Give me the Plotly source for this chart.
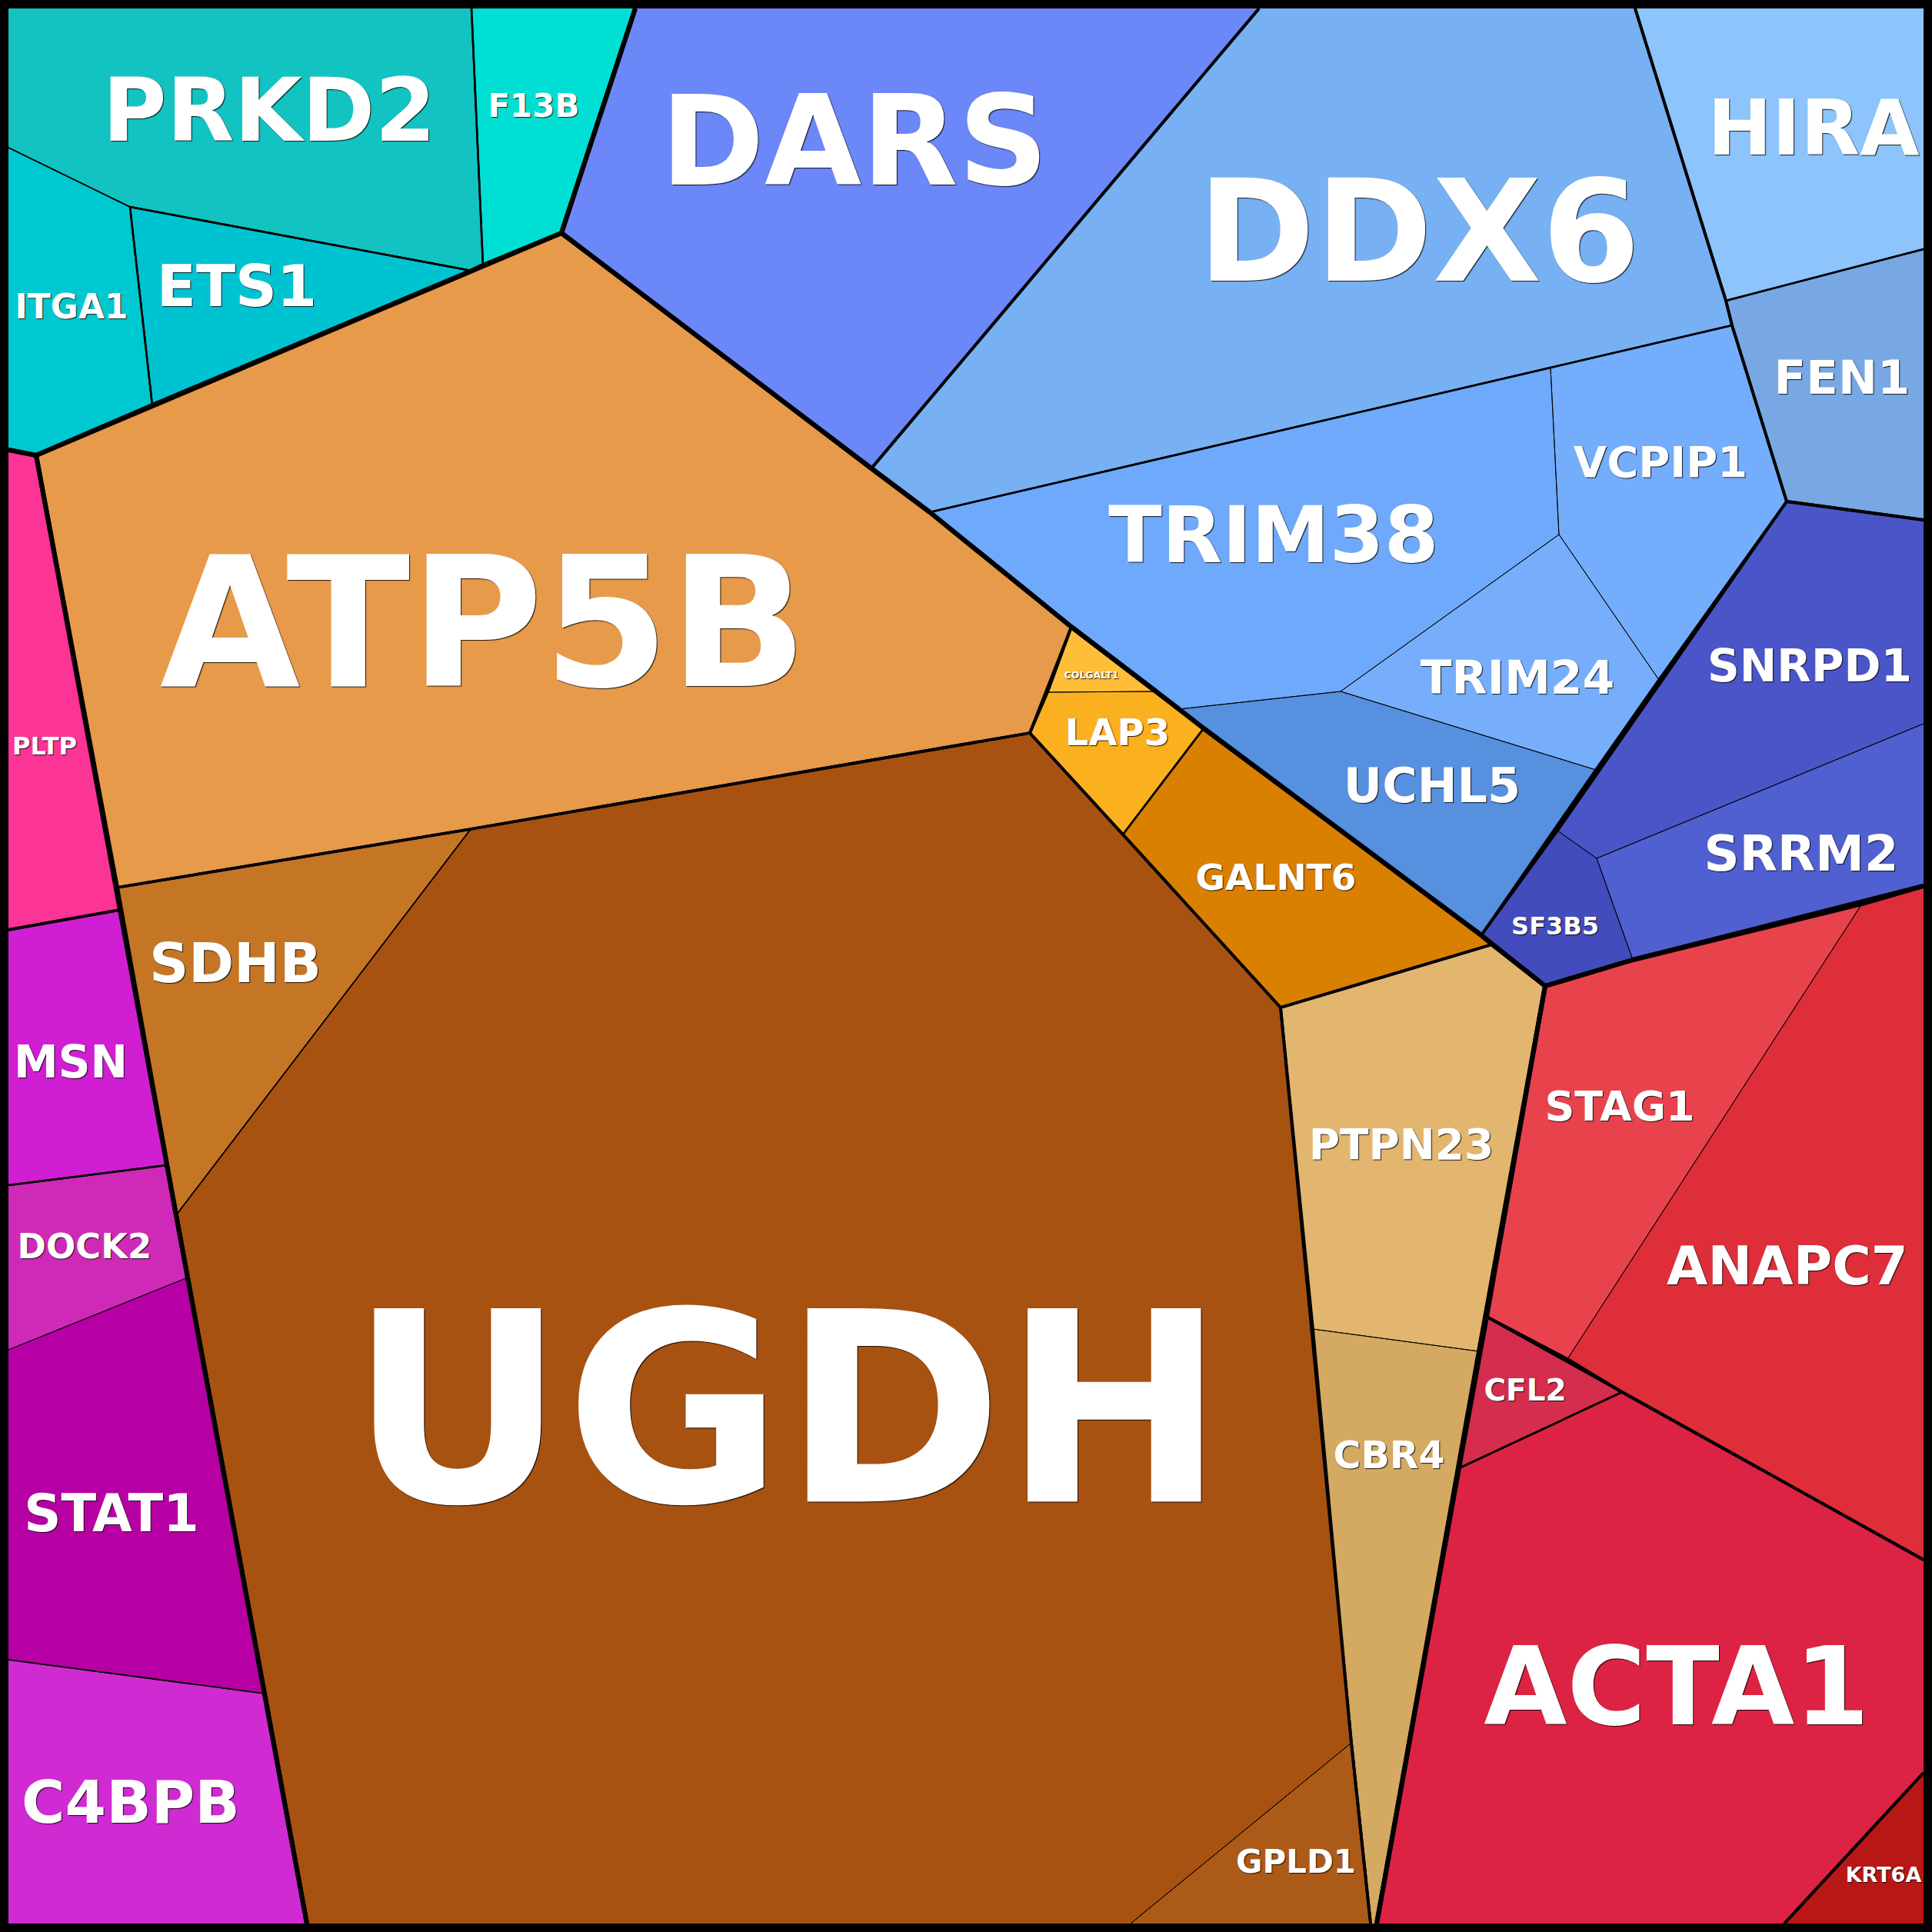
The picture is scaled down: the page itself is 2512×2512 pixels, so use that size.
import math
import plotly.graph_objects as go

# ---------------- data ----------------
cell_names = ["PRKD2", "F13B", "ETS1", "ITGA1",
              "DARS", "DDX6", "TRIM38", "VCPIP1", "TRIM24", "UCHL5",
              "HIRA", "FEN1", "SNRPD1", "SRRM2", "SF3B5",
              "ATP5B", "COLGALT1", "LAP3", "GALNT6", "UGDH", "SDHB", "GPLD1", "PTPN23", "CBR4",
              "PLTP", "MSN", "DOCK2", "STAT1", "C4BPB",
              "STAG1", "ANAPC7", "CFL2", "ACTA1", "KRT6A"]

# hierarchy path of each cell (group > subgroup > ...)
cell_paths = {
    "PRKD2": ("T", "t", "x", "p"), "ITGA1": ("T", "t", "x", "i"), "ETS1": ("T", "t", "y"), "F13B": ("T", "t", "z"),
    "DARS": ("B", "D"), "DDX6": ("B", "X", "d"),
    "TRIM38": ("B", "X", "t", "a", "1"), "VCPIP1": ("B", "X", "t", "a", "2"),
    "TRIM24": ("B", "X", "t", "a", "3"), "UCHL5": ("B", "X", "t", "a", "4"),
    "HIRA": ("B", "H", "h"), "FEN1": ("B", "H", "f"),
    "SNRPD1": ("B", "S", "a", "b", "1"), "SRRM2": ("B", "S", "a", "b", "2"), "SF3B5": ("B", "S", "a", "b", "3"),
    "ATP5B": ("O", "A"), "COLGALT1": ("O", "L", "a", "c", "1"), "LAP3": ("O", "L", "a", "c", "2"),
    "GALNT6": ("O", "L", "b"), "UGDH": ("O", "U", "x", "y", "u"), "GPLD1": ("O", "U", "x", "y", "g"),
    "SDHB": ("O", "U", "x", "s"), "PTPN23": ("O", "Q", "x", "y", "p"), "CBR4": ("O", "Q", "x", "y", "c"),
    "PLTP": ("P", "a"), "MSN": ("P", "b", "m"), "DOCK2": ("P", "b", "n", "q", "d"),
    "STAT1": ("P", "b", "n", "q", "s"), "C4BPB": ("P", "b", "n", "c"),
    "STAG1": ("R", "A", "x", "y", "s"), "ANAPC7": ("R", "A", "x", "y", "a"),
    "CFL2": ("R", "C", "c"), "ACTA1": ("R", "C", "a"), "KRT6A": ("R", "K"),
}

cell_colors = {
    "PRKD2": "#12C3C1", "F13B": "#00DFD4", "ETS1": "#00C3D2", "ITGA1": "#00C8D0",
    "DARS": "#6C87F7", "DDX6": "#78B1F3", "TRIM38": "#6FA9FB", "VCPIP1": "#74ADFB",
    "TRIM24": "#77AEFC", "UCHL5": "#5690DE", "HIRA": "#8CC4FB", "FEN1": "#78A8E3",
    "SNRPD1": "#4A56C8", "SRRM2": "#5060D0", "SF3B5": "#424CBC",
    "ATP5B": "#E79A4A", "COLGALT1": "#FEBE38", "LAP3": "#FBB01F", "GALNT6": "#DA8000",
    "UGDH": "#A85212", "SDHB": "#C47625", "GPLD1": "#AC5A18", "PTPN23": "#E2B66E", "CBR4": "#D4A961",
    "PLTP": "#FB3496", "MSN": "#D01FD2", "DOCK2": "#CF29B7", "STAT1": "#B700A4", "C4BPB": "#D02AD3",
    "STAG1": "#E8434D", "ANAPC7": "#DD2E3A", "CFL2": "#D42D4E", "ACTA1": "#DD2343", "KRT6A": "#B81815",
}

# cell polygon vertices (voronoi cell geometry)
cell_x = {
    "PRKD2": [11, 613, 628, 613, 169, 11],
    "F13B": [613, 826, 730, 628],
    "ETS1": [169, 613, 198],
    "ITGA1": [11, 169, 198, 47, 11],
    "DARS": [826, 1637, 1133, 730],
    "DDX6": [1637, 2126, 2244, 2252, 2016, 1209, 1133],
    "TRIM38": [1209, 2016, 2027, 1743, 1533, 1393],
    "VCPIP1": [2016, 2252, 2323, 2157, 2027],
    "TRIM24": [2027, 2157, 2075, 1743],
    "UCHL5": [1533, 1743, 2075, 1926, 1565],
    "HIRA": [2126, 2501, 2501, 2244],
    "FEN1": [2244, 2501, 2501, 2323, 2252],
    "SNRPD1": [2323, 2501, 2501, 2076, 2025],
    "SRRM2": [2076, 2501, 2501, 2123],
    "SF3B5": [1926, 2025, 2076, 2123, 2009],
    "ATP5B": [47, 730, 1133, 1209, 1393, 1339, 612, 152],
    "COLGALT1": [1393, 1503, 1362],
    "LAP3": [1362, 1503, 1565, 1460, 1339],
    "GALNT6": [1565, 1926, 1940, 1665, 1460],
    "UGDH": [612, 1339, 1460, 1665, 1757, 1470, 399, 229],
    "SDHB": [152, 612, 229],
    "GPLD1": [1757, 1782, 1470],
    "PTPN23": [1665, 1940, 2009, 1923, 1707],
    "CBR4": [1707, 1923, 1790, 1782, 1757],
    "PLTP": [11, 47, 156, 11],
    "MSN": [11, 156, 217, 11],
    "DOCK2": [11, 217, 244, 11],
    "STAT1": [11, 244, 344, 11],
    "C4BPB": [11, 344, 399, 11],
    "STAG1": [2009, 2123, 2421, 2038, 1933],
    "ANAPC7": [2421, 2501, 2501, 2109, 2038],
    "CFL2": [1933, 2109, 1897],
    "ACTA1": [1897, 2109, 2501, 2501, 2320, 1790],
    "KRT6A": [2501, 2501, 2320],
}
cell_y = {
    "PRKD2": [11, 11, 345, 352, 269, 192],
    "F13B": [11, 11, 303, 345],
    "ETS1": [269, 352, 527],
    "ITGA1": [192, 269, 527, 592, 585],
    "DARS": [11, 11, 609, 303],
    "DDX6": [11, 11, 391, 423, 478, 666, 609],
    "TRIM38": [666, 478, 695, 899, 922, 815],
    "VCPIP1": [478, 423, 652, 884, 695],
    "TRIM24": [695, 884, 1001, 899],
    "UCHL5": [922, 899, 1001, 1216, 947],
    "HIRA": [11, 11, 324, 391],
    "FEN1": [391, 324, 676, 652, 423],
    "SNRPD1": [652, 676, 941, 1116, 1080],
    "SRRM2": [1116, 941, 1152, 1248],
    "SF3B5": [1216, 1080, 1116, 1248, 1282],
    "ATP5B": [592, 303, 609, 666, 815, 953, 1078, 1154],
    "COLGALT1": [815, 899, 900],
    "LAP3": [900, 899, 947, 1085, 953],
    "GALNT6": [947, 1216, 1228, 1310, 1085],
    "UGDH": [1078, 953, 1085, 1310, 2266, 2501, 2501, 1580],
    "SDHB": [1154, 1078, 1580],
    "GPLD1": [2266, 2501, 2501],
    "PTPN23": [1310, 1228, 1282, 1757, 1728],
    "CBR4": [1728, 1757, 2501, 2501, 2266],
    "PLTP": [585, 592, 1183, 1209],
    "MSN": [1209, 1183, 1515, 1541],
    "DOCK2": [1541, 1515, 1661, 1755],
    "STAT1": [1755, 1661, 2202, 2158],
    "C4BPB": [2158, 2202, 2501, 2501],
    "STAG1": [1282, 1248, 1175, 1767, 1712],
    "ANAPC7": [1175, 1152, 2028, 1810, 1767],
    "CFL2": [1712, 1810, 1909],
    "ACTA1": [1909, 1810, 2028, 2305, 2501, 2501],
    "KRT6A": [2305, 2501, 2501],
}

# label anchor (cap-height centre) and font size
label_pos = {
    "PRKD2": (350, 143, 114), "F13B": (694, 137, 42), "ITGA1": (93, 398, 44), "ETS1": (308, 371, 75),
    "ATP5B": (629, 808, 236), "DARS": (1111, 182, 163), "DDX6": (1845, 300, 184),
    "HIRA": (2358, 165, 100), "FEN1": (2395, 490, 61), "VCPIP1": (2159, 600, 56),
    "TRIM38": (1656, 695, 102), "TRIM24": (1973, 881, 60), "UCHL5": (1862, 1021, 62),
    "SNRPD1": (2353, 865, 58), "SRRM2": (2342, 1109, 64), "SF3B5": (2022, 1204, 32),
    "COLGALT1": (1419, 878, 12.5), "LAP3": (1453, 952, 48), "GALNT6": (1659, 1140, 47),
    "SDHB": (306, 1252, 71), "UGDH": (1024, 1830, 345), "PTPN23": (1822, 1487, 55),
    "CBR4": (1806, 1892, 49), "GPLD1": (1685, 2420, 42),
    "STAG1": (2106, 1438, 54), "ANAPC7": (2324, 1645, 69), "CFL2": (1983, 1807, 39),
    "ACTA1": (2180, 2192, 140), "KRT6A": (2449, 2437, 27),
    "PLTP": (58, 970, 32), "MSN": (92, 1380, 58), "DOCK2": (110, 1620, 45),
    "STAT1": (145, 1967, 67), "C4BPB": (170, 2343, 77),
}

# border width by hierarchy depth at which two neighbouring cells diverge
depth_widths = [6, 3.8, 2.5, 1.5, 0.9]

# text drawing shift (fraction of font size) so the cap centre sits on the anchor
CAP_SHIFT = 0.105


# ---------------- geometry helpers ----------------
def point_in_poly(px, py, xs, ys):
    inside = False
    n = len(xs)
    j = n - 1
    for i in range(n):
        if (ys[i] > py) != (ys[j] > py):
            xint = (xs[j] - xs[i]) * (py - ys[i]) / (ys[j] - ys[i]) + xs[i]
            if px < xint:
                inside = not inside
        j = i
    return inside


def find_cell(px, py, exclude):
    for nm in cell_names:
        if nm != exclude and point_in_poly(px, py, cell_x[nm], cell_y[nm]):
            return nm
    return None


def lca_depth(a, b):
    pa, pb = cell_paths[a], cell_paths[b]
    d = 0
    while d < min(len(pa), len(pb)) and pa[d] == pb[d]:
        d += 1
    return min(d, len(depth_widths) - 1)


fig = go.Figure()

# fills
for nm in cell_names:
    xs, ys = cell_x[nm], cell_y[nm]
    fig.add_trace(go.Scatter(x=xs + [xs[0]], y=ys + [ys[0]], mode="lines", fill="toself",
                             fillcolor=cell_colors[nm], line=dict(width=0, color=cell_colors[nm]),
                             hoverinfo="text", text=nm, showlegend=False))

# borders
segs = {w: ([], []) for w in depth_widths}
for nm in cell_names:
    xs, ys = cell_x[nm], cell_y[nm]
    n = len(xs)
    edge_w = []
    for i in range(n):
        x1, y1 = xs[i], ys[i]
        x2, y2 = xs[(i + 1) % n], ys[(i + 1) % n]
        L = math.hypot(x2 - x1, y2 - y1) or 1
        nx, ny = -(y2 - y1) / L, (x2 - x1) / L
        mx, my = (x1 + x2) / 2, (y1 + y2) / 2
        nb = None
        for d in (4, 8, 14):
            for s in (1, -1):
                px, py = mx + s * nx * d, my + s * ny * d
                if point_in_poly(px, py, xs, ys):
                    continue
                nb = find_cell(px, py, nm)
                if nb:
                    break
            if nb:
                break
        edge_w.append(depth_widths[lca_depth(nm, nb)] if nb else None)
    for i in range(n):
        w = edge_w[i]
        if w is None:
            continue
        sx, sy = segs[w]
        sx += [xs[i], xs[(i + 1) % n], None]
        sy += [ys[i], ys[(i + 1) % n], None]

for w in sorted(depth_widths):
    sx, sy = segs[w]
    if sx:
        fig.add_trace(go.Scatter(x=sx, y=sy, mode="lines", line=dict(width=w, color="black"),
                                 hoverinfo="skip", showlegend=False))

# labels
fig.add_trace(go.Scatter(
    x=[label_pos[n][0] for n in cell_names],
    y=[label_pos[n][1] + CAP_SHIFT * label_pos[n][2] for n in cell_names],
    text=cell_names, mode="text", textposition="middle center",
    textfont=dict(family="DejaVu Sans", weight="bold", color="white",
                  size=[label_pos[n][2] for n in cell_names],
                  shadow="1px 1px 1px rgba(0,0,0,0.85)"),
    hoverinfo="skip", showlegend=False))

fig.update_layout(
    width=2512, height=2512,
    margin=dict(l=11, r=11, t=11, b=11),
    paper_bgcolor="black", plot_bgcolor="black",
    xaxis=dict(range=[11, 2501], visible=False, fixedrange=True),
    yaxis=dict(range=[2501, 11], visible=False, fixedrange=True),
)

fig.write_html(
    "out.html",
    config={"displayModeBar": False},
    post_script="document.body.style.margin='0';document.body.style.padding='0';"
                "document.body.style.background='black';document.body.style.overflow='hidden';",
)
